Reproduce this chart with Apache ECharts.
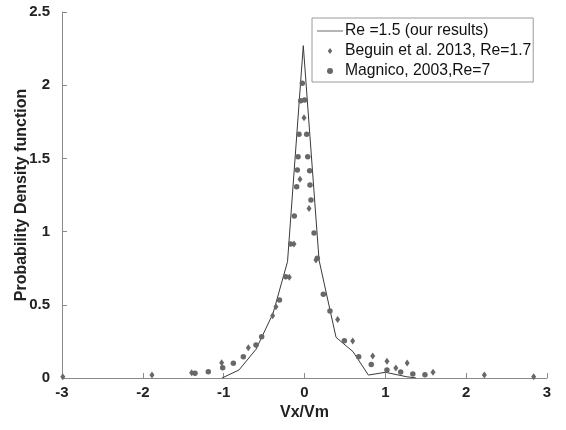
<!DOCTYPE html>
<html>
<head>
<meta charset="utf-8">
<script src="https://cdn.jsdelivr.net/npm/echarts@6/dist/echarts.min.js"></script>
<style>html,body{margin:0;padding:0;background:#fff}#c{width:566px;height:430px}</style>
</head>
<body>
<div id="c"></div>
<script>
// Re = 1.5 (our results) — simulated PDF line
const lineX = [-1.02, -0.81, -0.6, -0.39, -0.21, -0.015, 0.18, 0.39, 0.6, 0.79, 1.0, 1.26, 1.38];
const lineY = [0.0, 0.055, 0.196, 0.44, 0.795, 2.27, 0.805, 0.278, 0.18, 0.02, 0.039, 0.009, 0.0];

// Beguin et al. 2013, Re=1.7 (diamonds)
const beguinX = [-2.99, -1.887, -1.396, -1.025, -0.695, -0.394, -0.353, -0.188, -0.13, -0.056, -0.006, 0.056, 0.142, 0.41, 0.596, 0.844, 1.02, 1.13, 1.27, 1.59, 2.225, 2.835];
const beguinY = [0.009, 0.02, 0.036, 0.105, 0.207, 0.426, 0.487, 0.688, 0.915, 1.357, 1.778, 1.157, 0.806, 0.4, 0.253, 0.15, 0.114, 0.068, 0.102, 0.039, 0.02, 0.009];

// Magnico, 2003, Re=7 (circles)
const magnicoX = [-1.355, -1.19, -1.012, -0.88, -0.757, -0.6, -0.53, -0.31, -0.233, -0.171, -0.126, -0.097, -0.089, -0.08, -0.068, -0.047, -0.027, 0.002, 0.027, 0.04, 0.064, 0.068, 0.08, 0.118, 0.158, 0.233, 0.315, 0.493, 0.67, 0.826, 1.02, 1.19, 1.34, 1.49];
const magnicoY = [0.032, 0.043, 0.07, 0.10, 0.146, 0.225, 0.282, 0.533, 0.692, 0.915, 1.107, 1.307, 1.42, 1.512, 1.665, 1.894, 2.013, 1.899, 1.665, 1.512, 1.416, 1.318, 1.216, 0.99, 0.818, 0.572, 0.458, 0.255, 0.146, 0.093, 0.055, 0.041, 0.027, 0.023];

const seriesNames = ['Re =1.5 (our results)', 'Beguin et al. 2013, Re=1.7', 'Magnico, 2003,Re=7'];

const zip = (xs, ys) => xs.map((x, i) => [x, ys[i]]);
const FONT = '"Liberation Sans", Arial, sans-serif';
const axisGray = '#8a8a8a';
const markGray = '#686868';

const chart = echarts.init(document.getElementById('c'), null, { renderer: 'canvas' });
chart.setOption({
  animation: false,
  backgroundColor: '#fff',
  textStyle: { fontFamily: FONT },
  grid: { left: 62, right: 19, top: 12, bottom: 52, containLabel: false, outerBoundsMode: 'none' },
  legend: {
    orient: 'vertical',
    left: 312,
    top: 18,
    padding: [5, 2, 3, 5],
    itemWidth: 26,
    itemHeight: 6,
    itemGap: 4,
    symbolKeepAspect: true,
    borderColor: '#9a9a9a',
    borderWidth: 1,
    borderRadius: 0,
    backgroundColor: '#fff',
    textStyle: { fontFamily: FONT, fontSize: 15.7, color: '#111', padding: [0, 0, 0, -3] },
    data: [
      { name: seriesNames[0], icon: 'path://M0,0H26V1H0Z', itemStyle: { color: '#6a6a6a' } },
      { name: seriesNames[1], icon: 'path://M3,0L6,4L3,8L0,4Z' },
      { name: seriesNames[2], icon: 'circle' }
    ]
  },
  xAxis: {
    type: 'value',
    min: -3, max: 3, interval: 1,
    name: 'Vx/Vm',
    nameLocation: 'middle',
    nameGap: 27,
    nameMoveOverlap: false,
    nameTextStyle: { fontFamily: FONT, fontSize: 16, fontWeight: 'bold', color: '#222' },
    axisLine: { show: true, onZero: false, lineStyle: { color: axisGray, width: 1 } },
    axisTick: { show: true, inside: true, length: 5, lineStyle: { color: axisGray } },
    axisLabel: { fontFamily: FONT, fontSize: 15, fontWeight: 'bold', color: '#222', margin: 7 },
    splitLine: { show: false }
  },
  yAxis: {
    type: 'value',
    min: 0, max: 2.5, interval: 0.5,
    name: 'Probability Density function',
    nameLocation: 'middle',
    nameGap: 32,
    nameMoveOverlap: false,
    nameTextStyle: { fontFamily: FONT, fontSize: 16, fontWeight: 'bold', color: '#222' },
    axisLine: { show: true, onZero: false, lineStyle: { color: axisGray, width: 1 } },
    axisTick: { show: true, inside: true, length: 5, lineStyle: { color: axisGray } },
    axisLabel: { fontFamily: FONT, fontSize: 15, fontWeight: 'bold', color: '#222', margin: 12 },
    splitLine: { show: false }
  },
  series: [
    {
      name: seriesNames[0],
      type: 'line',
      data: zip(lineX, lineY),
      symbol: 'none',
      showSymbol: false,
      lineStyle: { color: '#3a3a3a', width: 1 },
      itemStyle: { color: '#3a3a3a' },
      z: 2
    },
    {
      name: seriesNames[1],
      type: 'scatter',
      data: zip(beguinX, beguinY),
      symbol: 'diamond',
      symbolSize: [5, 7],
      itemStyle: { color: markGray, opacity: 1 },
      z: 3
    },
    {
      name: seriesNames[2],
      type: 'scatter',
      data: zip(magnicoX, magnicoY),
      symbol: 'circle',
      symbolSize: 5.5,
      itemStyle: { color: markGray, opacity: 1 },
      z: 3
    }
  ]
});
</script>
</body>
</html>
